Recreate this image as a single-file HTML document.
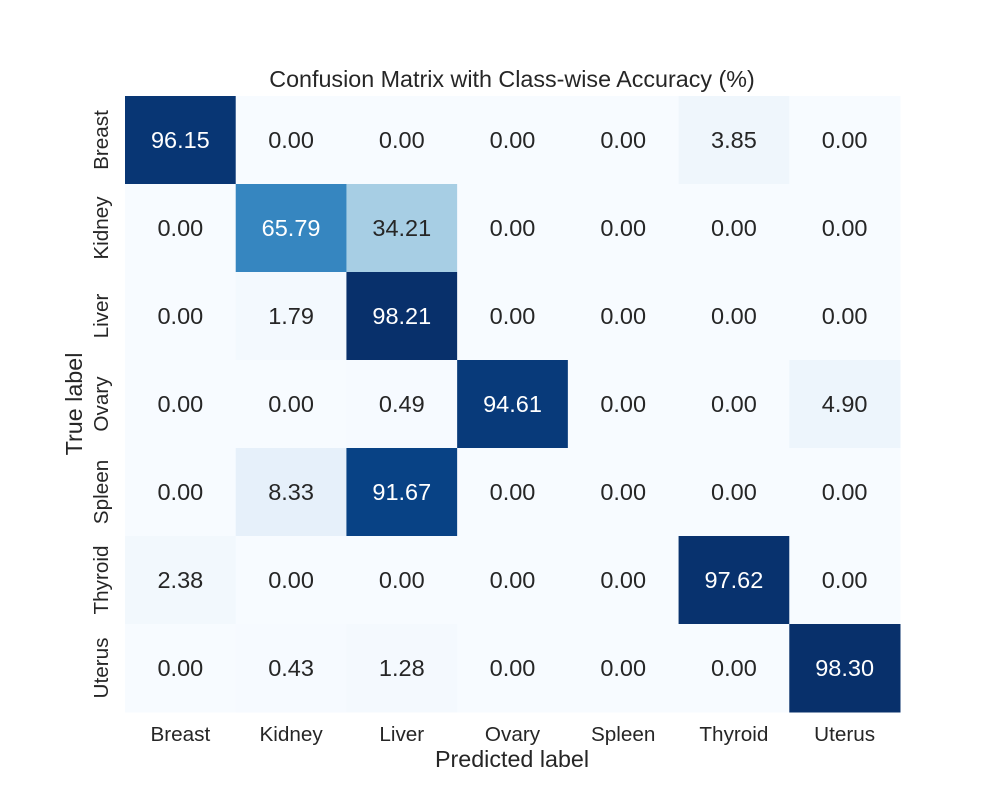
<!DOCTYPE html>
<html><head><meta charset="utf-8"><style>
body{margin:0;background:#fff;font-family:"Liberation Sans","DejaVu Sans",sans-serif;}
</style></head><body>
<svg id="chart" width="1000" height="800" xmlns="http://www.w3.org/2000/svg">
<rect width="1000" height="800" fill="#fff"/>
<text x="512" y="87" text-anchor="middle" font-size="23.3" fill="#262626">Confusion Matrix with Class-wise Accuracy (%)</text>
<text x="512" y="767" text-anchor="middle" font-size="23.3" fill="#262626">Predicted label</text>
<text transform="translate(82,404) rotate(-90)" text-anchor="middle" font-size="23.3" fill="#262626">True label</text>
<g id="cells"></g><g id="xt"></g><g id="yt"></g>
</svg>
<script>
const trueLabels=["Breast","Kidney","Liver","Ovary","Spleen","Thyroid","Uterus"];
const predLabels=["Breast","Kidney","Liver","Ovary","Spleen","Thyroid","Uterus"];
const row0=[96.15,0,0,0,0,3.85,0];
const row1=[0,65.79,34.21,0,0,0,0];
const row2=[0,1.79,98.21,0,0,0,0];
const row3=[0,0,0.49,94.61,0,0,4.90];
const row4=[0,8.33,91.67,0,0,0,0];
const row5=[2.38,0,0,0,0,97.62,0];
const row6=[0,0.43,1.28,0,0,0,98.30];
const matrix=[row0,row1,row2,row3,row4,row5,row6];
const L=125,R=900,T=96,B=712;
const cw=(R-L)/predLabels.length, ch=(B-T)/trueLabels.length;
const xs=j=>L+j*cw, ys=i=>T+i*ch;
const stops=["#f7fbff","#deebf7","#c6dbef","#9ecae1","#6baed6","#4292c6","#2171b5","#08519c","#08306b"];
const all=matrix.flat(); const vmin=Math.min(...all), vmax=Math.max(...all);
function hex(h){return [1,3,5].map(k=>parseInt(h.substr(k,2),16));}
function cmap(v){let t=(v-vmin)/(vmax-vmin);t=Math.max(0,Math.min(1,t));const p=t*8,i=Math.min(7,Math.floor(p)),f=p-i;const a=hex(stops[i]),b=hex(stops[i+1]);return `rgb(${a.map((c,k)=>Math.round(c+(b[k]-c)*f)).join(",")})`;}
const NS="http://www.w3.org/2000/svg";
const cells=document.getElementById("cells");
matrix.forEach((row,i)=>row.forEach((v,j)=>{
 const r=document.createElementNS(NS,"rect");
 r.setAttribute("x",xs(j));r.setAttribute("y",ys(i));r.setAttribute("width",cw+0.5);r.setAttribute("height",ch+0.5);r.setAttribute("fill",cmap(v));
 
 
 cells.appendChild(r);
 const t=document.createElementNS(NS,"text");
 t.setAttribute("x",xs(j)+cw/2);t.setAttribute("y",ys(i)+ch/2+8);t.setAttribute("text-anchor","middle");t.setAttribute("font-size","23.5");
 t.setAttribute("fill",(v-vmin)/(vmax-vmin)>0.5?"#fff":"#262626");t.textContent=v.toFixed(2);
 
 
 cells.appendChild(t);
}));
const xt=document.getElementById("xt");
predLabels.forEach((l,j)=>{const t=document.createElementNS(NS,"text");t.setAttribute("x",xs(j)+cw/2);t.setAttribute("y",741);t.setAttribute("text-anchor","middle");t.setAttribute("font-size","20.7");t.setAttribute("fill","#262626");t.textContent=l;
 
 
 xt.appendChild(t);});
const yt=document.getElementById("yt");
trueLabels.forEach((l,i)=>{const t=document.createElementNS(NS,"text");t.setAttribute("transform",`translate(108,${ys(i)+ch/2}) rotate(-90)`);t.setAttribute("text-anchor","middle");t.setAttribute("font-size","20.7");t.setAttribute("fill","#262626");t.textContent=l;
 
 
 yt.appendChild(t);});
</script>
</body></html>
